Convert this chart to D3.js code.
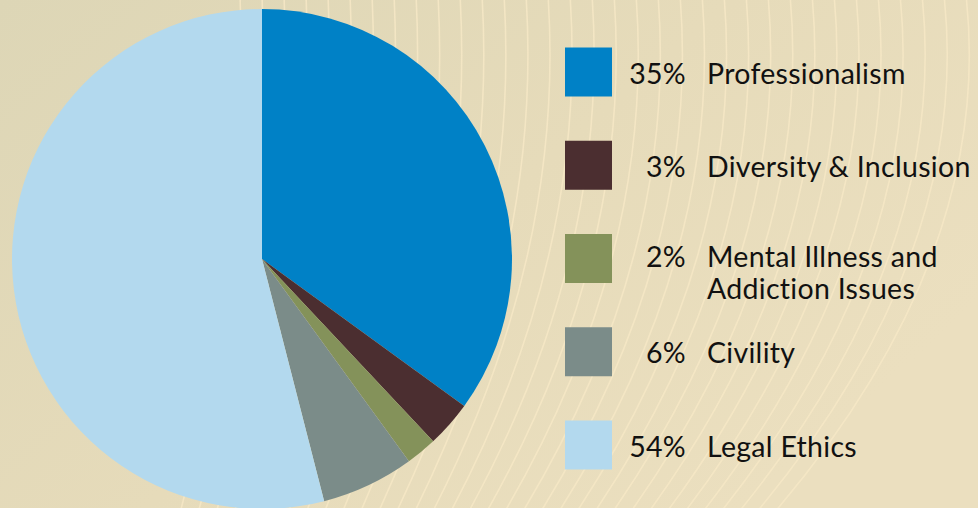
<!DOCTYPE html>
<html>
<head>
<meta charset="utf-8">
<script src="https://cdn.jsdelivr.net/npm/d3@7"></script>
<style>
  html, body { margin: 0; padding: 0; background: #e9ddbd; }
  svg { display: block; }
</style>
</head>
<body>
<svg id="chart" width="978" height="508"></svg>
<script>
// data
const categories = ['Professionalism', 'Diversity & Inclusion', 'Mental Illness and|Addiction Issues', 'Civility', 'Legal Ethics'];
const shares = [35, 3, 2, 6, 54];
const colors = ['#0081c6', '#4b2e30', '#84925a', '#7b8c89', '#b3d9ee'];

const W = 978, H = 508;
const svg = d3.select('#chart');

// background: base + darker wash top-left + faint curved streaks
const defs = svg.append('defs');
const grad = defs.append('linearGradient').attr('id', 'bg')
                 .attr('x1', 0).attr('y1', 0).attr('x2', 1).attr('y2', 0.6);
grad.append('stop').attr('offset', '0%').attr('stop-color', '#ddd6b6');
grad.append('stop').attr('offset', '55%').attr('stop-color', '#e6dbba');
grad.append('stop').attr('offset', '100%').attr('stop-color', '#ebdfbf');
svg.append('rect').attr('width', W).attr('height', H).attr('fill', 'url(#bg)');

const streaks = svg.append('g').attr('fill', 'none')
                   .attr('stroke', '#f6e8c6').attr('stroke-width', 1.6).attr('stroke-opacity', 0.85);
d3.range(34).forEach(i => {
  const x0 = 240 + i * 22;
  const bend = 60 + i * 4;
  streaks.append('path')
         .attr('d', `M${x0},-5 Q${x0 + bend * 0.15},${H * 0.5} ${x0 - bend},${H + 5}`);
});

// pie
const cx = 262, cy = 259, r = 250;
const pie = d3.pie().sort(null).value(d => d)(shares);
const arc = d3.arc().innerRadius(0).outerRadius(r);

svg.append('g').attr('transform', `translate(${cx},${cy})`)
   .selectAll('path').data(pie).enter().append('path')
   .attr('d', arc)
   .attr('fill', (d, i) => colors[i]);

// legend
const y = d3.scalePoint().domain(d3.range(categories.length)).range([72, 445]);
const lg = svg.append('g').attr('font-family', 'Lato, "Open Sans", sans-serif')
              .attr('font-size', 28.5).attr('letter-spacing', 0.3).attr('fill', '#111');

const item = lg.selectAll('g').data(categories).enter().append('g')
               .attr('transform', (d, i) => `translate(0,${y(i)})`);

item.append('rect').attr('x', 565).attr('y', -24.5)
    .attr('width', 47).attr('height', 49)
    .attr('fill', (d, i) => colors[i]);

item.append('text').attr('x', 686).attr('text-anchor', 'end')
    .attr('y', (d) => d.includes('|') ? 8 : 11.5)
    .text((d, i) => shares[i] + '%');

item.append('text').attr('x', 707)
    .attr('y', (d) => d.includes('|') ? 8 : 11.5)
    .selectAll('tspan').data(d => d.split('|')).enter().append('tspan')
    .attr('x', 707).attr('dy', (d, i) => i === 0 ? 0 : 32)
    .text(d => d);
</script>
</body>
</html>
